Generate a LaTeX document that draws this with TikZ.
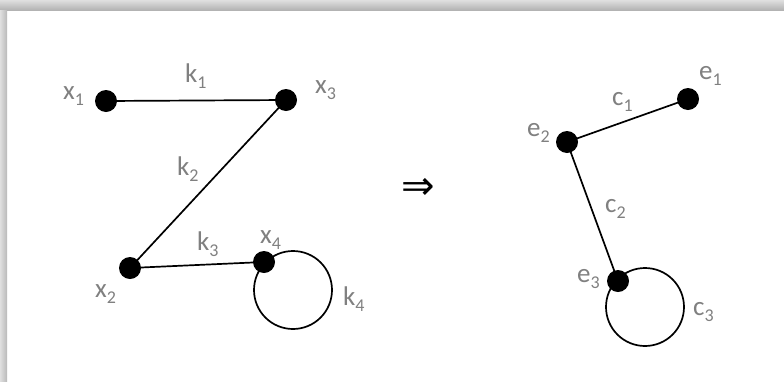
\documentclass[tikz,border=0pt]{standalone}
\usepackage{fontspec}
\setmainfont{Carlito}
\newfontfamily\symfont{DejaVu Sans}
\definecolor{labelgray}{RGB}{128,128,128}
\newcommand{\lsub}[1]{\raisebox{-6pt}{\fontsize{18}{18}\selectfont #1}}

\begin{document}
\begin{tikzpicture}[x=1pt, y=-1pt,
    dot/.style={fill=black, circle, inner sep=0pt, minimum size=22pt}, % Black dots
    labelstyle/.style={labelgray, font=\fontsize{27}{27}\selectfont, anchor=base west, inner sep=0pt}, % Gray labels
    edge/.style={line width=1.7pt}
]

    % Frame with shadow on top and left
    \useasboundingbox (0,0) rectangle (784,381);
    \shade[top color=gray!25, bottom color=gray!60] (0,0) rectangle (784,10);
    \shade[left color=gray!25, right color=gray!55] (0,10) rectangle (7,381);

    % Define Coordinates (left graph)
    \coordinate (x1) at (106,101);
    \coordinate (x3) at (286,100);
    \coordinate (x2) at (130,268);
    \coordinate (x4) at (264,262);
    \coordinate (x4loop) at (293,290);

    % Define Coordinates (right graph)
    \coordinate (e1) at (688,99);
    \coordinate (e2) at (567,142);
    \coordinate (e3) at (618,281);
    \coordinate (e3loop) at (645,307);

    % Draw Edges
    \draw[edge] (x1) -- (x3);
    \draw[edge] (x3) -- (x2);
    \draw[edge] (x2) -- (x4);
    \draw[edge] (x4loop) circle (39);
    \draw[edge] (e2) -- (e1);
    \draw[edge] (e2) -- (e3);
    \draw[edge] (e3loop) circle (39);

    % Draw Points (on top of the edges)
    \node[dot] (nx1) at (x1) {};
    \node[dot] (nx3) at (x3) {};
    \node[dot] (nx2) at (x2) {};
    \node[dot] (nx4) at (x4) {};
    \node[dot] (ne1) at (e1) {};
    \node[dot] (ne2) at (e2) {};
    \node[dot] (ne3) at (e3) {};

    % Vertex Labels
    \node[labelstyle] (lx1) at (63,99.5) {x\lsub{1}};
    \node[labelstyle] (lx3) at (315,93) {x\lsub{3}};
    \node[labelstyle] (lx2) at (95,297) {x\lsub{2}};
    \node[labelstyle] (lx4) at (260,243) {x\lsub{4}};
    \node[labelstyle] (le1) at (699,79) {e\lsub{1}};
    \node[labelstyle] (le2) at (527,136) {e\lsub{2}};
    \node[labelstyle] (le3) at (577,282) {e\lsub{3}};

    % Edge Labels
    \node[labelstyle] (lk1) at (185,82) {k\lsub{1}};
    \node[labelstyle] (lk2) at (177,175) {k\lsub{2}};
    \node[labelstyle] (lk3) at (197,250) {k\lsub{3}};
    \node[labelstyle] (lk4) at (343,305) {k\lsub{4}};
    \node[labelstyle] (lc1) at (612,105) {c\lsub{1}};
    \node[labelstyle] (lc2) at (605,212) {c\lsub{2}};
    \node[labelstyle] (lc3) at (693,315) {c\lsub{3}};

    % Implication Arrow
    \node[inner sep=0pt, font=\symfont\fontsize{40}{40}\selectfont] (implies) at (418,189) {⇒};

\end{tikzpicture}
\end{document}
